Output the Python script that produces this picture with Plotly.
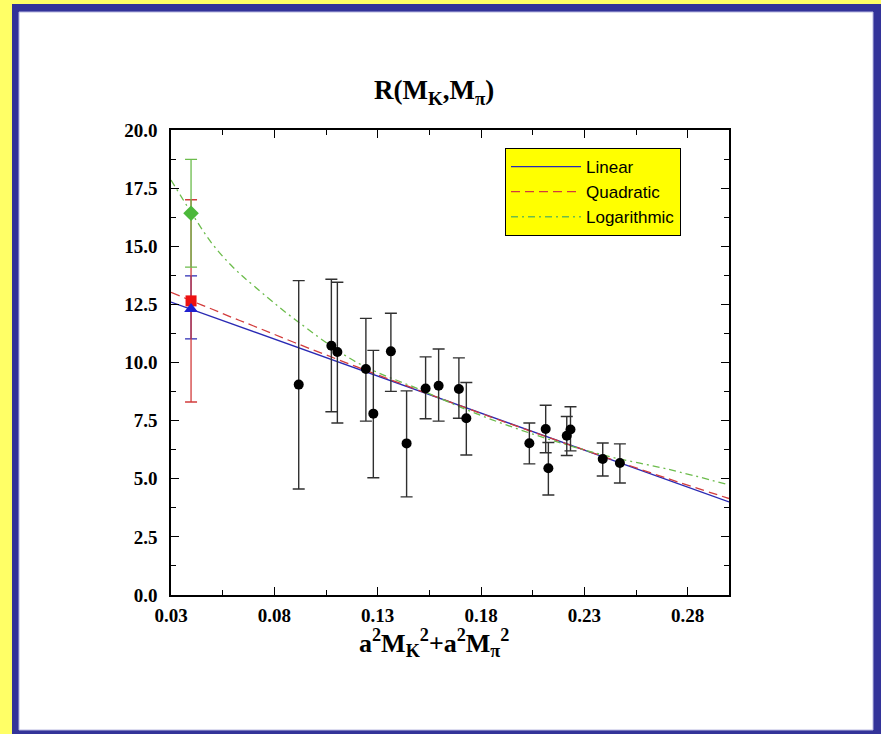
import plotly.graph_objects as go

# ---- lattice data: R(M_K, M_pi) vs a^2 M_K^2 + a^2 M_pi^2 ----
x_data = [0.0918, 0.1076, 0.1105, 0.1243, 0.1279, 0.1364, 0.1440, 0.1532, 0.1595,
          0.1693, 0.1729, 0.2034, 0.2113, 0.2126, 0.2215, 0.2233, 0.2389, 0.2472]
y_data = [9.05, 10.72, 10.45, 9.72, 7.80, 10.48, 6.52, 8.88, 9.00,
          8.86, 7.60, 6.53, 7.14, 5.45, 6.85, 7.12, 5.85, 5.68]
y_hi = [13.52, 13.58, 13.45, 11.90, 10.52, 12.12, 8.78, 10.24, 10.58,
        10.20, 9.14, 7.40, 8.16, 6.56, 7.68, 8.10, 6.54, 6.50]
y_lo = [4.56, 7.88, 7.40, 7.48, 5.04, 8.76, 4.22, 7.58, 7.48,
        7.60, 6.02, 5.64, 6.12, 4.30, 6.00, 6.20, 5.12, 4.82]

# ---- extrapolated values at the physical point ----
x_phys = 0.0397
extrap_names = ["Linear", "Quadratic", "Logarithmic"]
extrap_y = [12.30, 12.65, 16.42]
extrap_hi = [13.73, 17.00, 18.74]
extrap_lo = [11.02, 8.30, 14.10]

# ---- fit curves ----
fit_x_lin = [0.03, 0.30]
fit_y_lin = [12.60, 4.00]
fit_x = [0.03, 0.04, 0.05, 0.06, 0.07, 0.09, 0.12, 0.15, 0.18, 0.21, 0.24, 0.27, 0.30]
fit_y_quad = [13.02, 12.65, 12.29, 11.92, 11.57, 10.85, 9.81, 8.80, 7.81, 6.86, 5.93, 5.02, 4.15]
fit_y_log = [17.85, 16.42, 15.10, 14.10, 13.30, 11.85, 10.00, 8.85, 7.72, 6.78, 6.00, 5.42, 4.74]

# ---- colours ----
C_BLUE = "#2a2ab4"
C_RED = "#d23c3c"
C_GREEN = "#6cbc4c"
C_MARK_GREEN = "#4cb83a"

# ---- page geometry (pixels) ----
W, H = 881, 734
L, R, T, B = 171, 729, 130, 595


def px_x(p):
    return (p - L) / (R - L)


def px_y(p):
    return (B - p) / (B - T)


fig = go.Figure()

fig.add_trace(go.Scatter(x=fit_x_lin, y=fit_y_lin, mode="lines", name="Linear",
                         line=dict(color=C_BLUE, width=1.3)))
fig.add_trace(go.Scatter(x=fit_x, y=fit_y_quad, mode="lines", name="Quadratic",
                         line=dict(color=C_RED, width=1.3, dash="9px,5px", shape="spline")))
fig.add_trace(go.Scatter(x=fit_x, y=fit_y_log, mode="lines", name="Logarithmic",
                         line=dict(color=C_GREEN, width=1.3, dash="7px,4px,2px,4px", shape="spline")))

# error bars of the extrapolated values (blue, red, green stacking)
ext_colors = [C_BLUE, C_RED, C_GREEN]
for i in range(3):
    fig.add_trace(go.Scatter(
        x=[x_phys], y=[extrap_y[i]], mode="markers", showlegend=False,
        marker=dict(size=1, opacity=0),
        error_y=dict(type="data", symmetric=False,
                     array=[extrap_hi[i] - extrap_y[i]],
                     arrayminus=[extrap_y[i] - extrap_lo[i]],
                     color=ext_colors[i], thickness=1.3, width=6),
        hoverinfo="skip",
    ))

# extrapolated symbols: square, then triangle, then diamond on top
ext_marker_order = [1, 0, 2]
ext_markers = {
    0: dict(symbol="triangle-up", size=12, color="#2020d0"),
    1: dict(symbol="square", size=11, color="#ee1111"),
    2: dict(symbol="diamond", size=12, color=C_MARK_GREEN),
}
for i in ext_marker_order:
    fig.add_trace(go.Scatter(
        x=[x_phys], y=[extrap_y[i]], mode="markers", showlegend=False,
        name=extrap_names[i], marker=ext_markers[i],
    ))

# lattice data points
fig.add_trace(go.Scatter(
    x=x_data, y=y_data, mode="markers", showlegend=False,
    marker=dict(symbol="circle", size=10, color="black"),
    error_y=dict(type="data", symmetric=False,
                 array=[h - y for h, y in zip(y_hi, y_data)],
                 arrayminus=[y - l for y, l in zip(y_data, y_lo)],
                 color="#303030", thickness=1.4, width=6),
))

# page frame: yellow page, blue border, white panel
shapes = [
    dict(type="rect", xref="paper", yref="paper", layer="below",
         x0=px_x(12), x1=px_x(881), y0=px_y(734), y1=px_y(4),
         fillcolor="#333399", line=dict(width=0)),
    dict(type="rect", xref="paper", yref="paper", layer="below",
         x0=px_x(19), x1=px_x(873), y0=px_y(730), y1=px_y(12),
         fillcolor="white", line=dict(color="#b8b8e0", width=1)),
]

serif = "Liberation Serif"
annotations = [
    dict(text="R(M<sub>K</sub>,M<sub>π</sub>)", xref="paper", yref="paper",
         x=px_x(434), y=px_y(92), xanchor="center", yanchor="middle", showarrow=False,
         font=dict(family=serif, size=27, color="black", weight="bold")),
    dict(text="a<sup>2</sup>M<sub>K</sub><sup>2</sup>+a<sup>2</sup>M<sub>π</sub><sup>2</sup>",
         xref="paper", yref="paper",
         x=px_x(434), y=px_y(643), xanchor="center", yanchor="middle", showarrow=False,
         font=dict(family=serif, size=26, color="black", weight="bold")),
]

axis_common = dict(
    showline=True, linecolor="black", linewidth=1.5, mirror="allticks",
    ticks="inside", ticklen=8, tickwidth=1.2, tickcolor="black",
    showgrid=False, zeroline=False,
    tickfont=dict(family=serif, size=19, color="black", weight="bold"),
)

fig.update_layout(
    width=W, height=H,
    margin=dict(l=L, r=W - R, t=T, b=H - B, pad=0),
    paper_bgcolor="#ffff66", plot_bgcolor="white",
    shapes=shapes, annotations=annotations,
    xaxis=dict(range=[0.03, 0.30], tick0=0.03, dtick=0.05, tickformat=".2f",
               minor=dict(ticks="inside", ticklen=5, tickwidth=1, tickcolor="black", dtick=0.025, tick0=0.03),
               ticklabelstandoff=2, **axis_common),
    yaxis=dict(range=[0, 20], tick0=0, dtick=2.5, tickformat=".1f",
               minor=dict(ticks="inside", ticklen=5, tickwidth=1, tickcolor="black", dtick=1.25, tick0=0),
               ticklabelstandoff=8, **axis_common),
    legend=dict(x=px_x(505), y=px_y(148), xanchor="left", yanchor="top",
                bgcolor="#ffff00", bordercolor="black", borderwidth=1,
                font=dict(family="Liberation Sans", size=17, color="black"),
                itemwidth=70, tracegroupgap=0),
    showlegend=True,
)

fig.write_html("out.html")
